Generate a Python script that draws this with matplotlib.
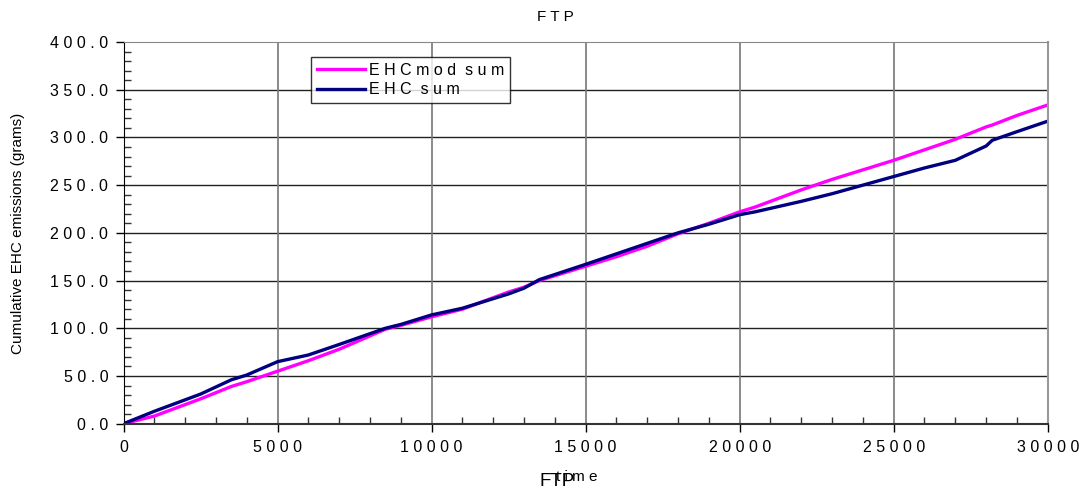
import matplotlib
matplotlib.use("Agg")
import matplotlib.pyplot as plt
from matplotlib.ticker import MultipleLocator, FuncFormatter

plt.rcParams['font.family'] = ['Liberation Sans', 'DejaVu Sans']

# 데이터
time = [0, 1000, 2000, 2500, 3500, 4000, 5000, 6000, 7000, 8500, 9000,
        10000, 11000, 12500, 13000, 13500, 15000, 16000, 17000, 18000,
        19000, 20000, 20500, 22000, 23000, 24000, 25000, 26000, 27000,
        28000, 28200, 29000, 30000]
ehc_mod_sum = [0, 8, 20, 26, 39, 44, 55, 66, 78, 99, 103,
               112, 120, 138, 143, 150, 165, 175, 186, 199,
               210, 222, 227, 245, 256, 266, 276, 287, 298,
               311, 313, 323, 334]
ehc_sum = [0, 13, 25, 31, 46, 51, 65, 72, 83, 100, 104,
           114, 121, 136, 142, 151, 167, 178, 189, 200,
           209, 219, 222, 233, 241, 250, 259, 268, 276,
           291, 297, 306, 317]


def spaced(s):
    return ' '.join(s)


W, H = 1081, 493
fig = plt.figure(figsize=(W / 100, H / 100), dpi=100)
ax = fig.add_axes([123.5 / W, 1 - 423.7 / H, (1047.7 - 123.5) / W, (423.7 - 42) / H])

ax.plot(time, ehc_mod_sum, color='#FF00FF', lw=2.4, label=spaced('EHCmod') + '  ' + spaced('sum'))
ax.plot(time, ehc_sum, color='#000080', lw=2.4, label=spaced('EHC') + '  ' + spaced('sum'))

ax.set_xlim(0, 30000)
ax.set_ylim(0, 400)
ax.xaxis.set_major_locator(MultipleLocator(5000))
ax.xaxis.set_minor_locator(MultipleLocator(1000))
ax.yaxis.set_major_locator(MultipleLocator(50))
ax.yaxis.set_minor_locator(MultipleLocator(10))
ax.xaxis.set_major_formatter(FuncFormatter(lambda v, p: spaced(f'{v:.0f}')))
ax.yaxis.set_major_formatter(FuncFormatter(lambda v, p: spaced(f'{v:.1f}')))

ax.tick_params(which='major', direction='out', length=6, width=1, labelsize=11.5, colors='black', pad=6)
ax.tick_params(which='minor', direction='in', length=5, width=1, colors='#333333')
ax.tick_params(axis='y', which='major', pad=5)

# 격자
for y in range(50, 400, 50):
    ax.axhline(y, color='#222222', lw=1, zorder=0)
for x in range(5000, 30000, 5000):
    ax.axvline(x, color='#777777', lw=1.2, zorder=0)

ax.spines['left'].set_color('black')
ax.spines['bottom'].set_color('#333333')
ax.spines['bottom'].set_linewidth(1.5)
ax.spines['top'].set_color('#888888')
ax.spines['right'].set_color('#999999')
ax.spines['right'].set_linewidth(1.5)

ax.set_ylabel('Cumulative EHC emissions (grams)', fontsize=11)
ax.yaxis.set_label_coords(18 / W, 0.5, transform=fig.transFigure)
ax.yaxis.label.set_verticalalignment('center')
ax.yaxis.label.set_position((18 / W, 1 - 233 / H))

fig.text(555 / W, 1 - 17 / H, spaced('FTP'), ha='center', va='center', fontsize=11)
fig.text(577 / W, 1 - 477 / H, spaced('tim') + ' e', ha='center', va='center', fontsize=11)
fig.text(557 / W, 1 - 482 / H, 'FTP', ha='center', va='center', fontsize=13.5)

leg = ax.legend(loc='upper left', bbox_to_anchor=(311 / W, 1 - 57 / H),
                bbox_transform=fig.transFigure, fontsize=11.5, frameon=True,
                fancybox=False, handlelength=3.0, handletextpad=0.3,
                borderpad=0.35, labelspacing=0.3, borderaxespad=0)
leg.get_frame().set_edgecolor('black')
leg.get_frame().set_linewidth(1)

fig.savefig('out.png', dpi=100)
